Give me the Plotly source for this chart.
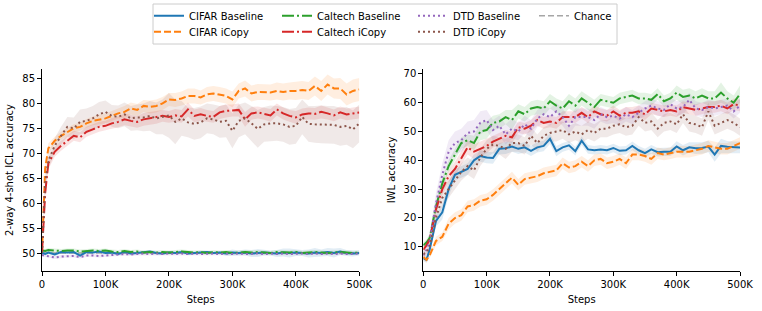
import plotly.graph_objects as go

# ---------------- data ----------------
steps_k = [0, 5, 10, 20, 30, 40, 50, 60, 70, 80,
           90, 100, 110, 120, 130, 140, 150, 160, 170, 180,
           190, 200, 210, 220, 230, 240, 250, 260, 270, 280,
           290, 300, 310, 320, 330, 340, 350, 360, 370, 380,
           390, 400, 410, 420, 430, 440, 450, 460, 470, 480,
           490, 500]
steps = [s * 1000 for s in steps_k]

# ICL accuracy (left panel)
icl_cifar_base = [50.0, 49.8, 50.1, 49.7, 50.2, 50.1, 50.2, 49.5, 50.2, 50.1,
                  50.3, 50.0, 50.1, 49.8, 50.2, 49.9, 50.0, 50.1, 50.3, 50.0,
                  49.9, 50.1, 50.0, 50.2, 49.9, 50.0, 50.1, 50.2, 50.0, 50.1,
                  49.9, 50.1, 50.0, 50.1, 49.9, 50.0, 50.1, 50.0, 49.9, 50.1,
                  50.0, 50.1, 50.0, 49.9, 50.1, 50.0, 50.2, 50.0, 50.3, 50.0,
                  49.9, 50.0]
icl_cifar_icopy = [50.0, 67.0, 71.0, 72.5, 73.5, 74.3, 75.0, 75.3, 76.0, 76.5,
                   76.8, 77.0, 77.5, 78.0, 78.3, 79.0, 78.7, 79.5, 79.3, 79.5,
                   80.0, 80.8, 80.7, 81.0, 81.5, 81.5, 81.2, 81.8, 82.0, 81.8,
                   81.5, 80.8, 82.5, 83.0, 82.0, 82.3, 82.3, 82.2, 82.5, 82.3,
                   82.5, 82.5, 82.7, 82.5, 83.5, 82.5, 83.8, 83.0, 83.0, 81.8,
                   82.5, 82.8]
icl_caltech_base = [50.5, 50.4, 50.6, 50.5, 50.4, 50.5, 50.5, 50.3, 50.4, 50.5,
                    50.4, 50.5, 50.3, 50.2, 50.4, 50.2, 50.3, 50.1, 50.2, 50.1,
                    50.2, 50.1, 50.2, 50.3, 50.2, 50.1, 50.2, 50.0, 50.2, 50.1,
                    50.2, 50.0, 50.1, 50.2, 50.1, 50.2, 50.1, 50.0, 50.2, 50.1,
                    50.1, 50.2, 50.0, 50.1, 50.2, 50.1, 50.0, 50.1, 50.2, 50.1,
                    50.0, 50.1]
icl_caltech_icopy = [50.0, 62.0, 68.0, 70.3, 71.5, 72.5, 73.5, 73.2, 74.3, 74.8,
                     75.3, 75.5, 76.0, 76.3, 76.8, 76.5, 76.3, 76.8, 77.0, 77.2,
                     77.5, 77.3, 77.6, 77.4, 78.8, 77.5, 77.8, 77.5, 77.3, 78.2,
                     78.5, 78.6, 78.7, 76.8, 78.0, 78.2, 77.9, 77.6, 78.8, 78.0,
                     77.5, 77.2, 77.8, 78.0, 77.9, 78.3, 78.0, 77.6, 78.2, 77.8,
                     78.0, 78.2]
icl_dtd_base = [49.6, 49.5, 49.4, 49.1, 49.3, 49.4, 49.4, 49.2, 49.5, 49.5,
                49.4, 49.5, 49.6, 49.7, 49.8, 49.7, 49.8, 49.9, 49.8, 49.9,
                49.8, 49.9, 49.8, 49.9, 49.8, 49.9, 49.8, 49.9, 49.9, 49.8,
                49.9, 49.8, 49.9, 49.8, 49.9, 49.9, 49.8, 49.9, 49.8, 49.9,
                49.8, 49.9, 49.9, 49.8, 49.9, 49.8, 49.9, 49.8, 49.9, 49.8,
                49.9, 49.9]
icl_dtd_icopy = [50.0, 64.0, 68.5, 71.5, 73.5, 75.3, 75.0, 76.3, 76.5, 77.0,
                 77.8, 78.3, 77.5, 77.3, 77.8, 77.0, 77.2, 77.2, 77.5, 77.0,
                 77.3, 77.6, 76.3, 77.0, 76.2, 75.9, 76.2, 77.0, 76.8, 76.3,
                 76.5, 74.5, 76.5, 77.0, 76.0, 74.9, 75.8, 76.0, 76.0, 75.8,
                 75.3, 75.5, 77.3, 75.9, 75.8, 75.8, 75.7, 75.7, 75.3, 75.5,
                 74.8, 76.0]

icl_cifar_base_err = [0.3] * 30 + [0.5, 0.6, 0.5, 0.6, 0.7, 0.8, 0.6, 0.5, 0.7, 0.8,
                                   0.9, 0.7, 0.6, 0.8, 0.9, 0.7, 0.8, 0.9, 0.7, 0.6,
                                   0.6, 0.5]
icl_cifar_icopy_err = [0.0, 1.0, 1.0, 0.8, 0.8, 0.8, 0.8, 0.8, 0.9, 0.9,
                       1.0, 1.0, 1.0, 1.0, 1.2, 1.2, 1.2, 1.2, 1.3, 1.3,
                       1.3, 1.3, 1.4, 1.4, 1.5, 1.5, 1.4, 1.5, 1.5, 1.5,
                       1.5, 1.6, 1.5, 1.6, 1.6, 1.6, 1.6, 1.6, 1.7, 1.7,
                       1.7, 1.8, 1.8, 1.8, 1.9, 2.0, 2.0, 2.0, 2.1, 2.2,
                       2.3, 2.3]
icl_caltech_base_err = [0.4] * 52
icl_caltech_icopy_err = [0.0, 1.2, 1.2, 1.0, 1.0, 1.0, 1.0, 1.0, 1.0, 1.0,
                         1.0, 1.0, 1.1, 1.1, 1.2, 1.2, 1.2, 1.3, 1.3, 1.3,
                         1.2, 1.2, 1.3, 1.3, 1.4, 1.3, 1.3, 1.2, 1.2, 1.3,
                         1.3, 1.2, 1.3, 1.5, 1.3, 1.2, 1.2, 1.3, 1.2, 1.2,
                         1.2, 1.3, 1.2, 1.2, 1.2, 1.3, 1.2, 1.2, 1.2, 1.2,
                         1.2, 1.2]
icl_dtd_base_err = [0.3] * 52
icl_dtd_icopy_err = [0.0, 1.5, 1.5, 1.5, 1.8, 2.0, 2.2, 2.5, 2.5, 2.5,
                     2.5, 2.3, 2.2, 2.3, 2.4, 2.5, 2.6, 2.8, 3.0, 3.2,
                     3.5, 4.5, 4.5, 3.5, 3.0, 3.2, 3.2, 3.0, 3.0, 3.2,
                     3.3, 3.5, 3.3, 3.2, 3.5, 3.8, 3.5, 3.6, 3.5, 3.5,
                     3.6, 3.6, 3.5, 3.6, 3.7, 3.8, 3.8, 3.8, 3.8, 3.8,
                     3.8, 3.8]

# IWL accuracy (right panel)
iwl_cifar_base = [6.0, 5.5, 9.0, 19.0, 22.0, 30.0, 35.0, 36.0, 37.0, 40.0,
                  41.5, 41.0, 40.8, 44.0, 44.2, 44.8, 44.0, 44.5, 43.3, 44.5,
                  45.0, 47.5, 43.2, 44.5, 45.2, 43.2, 46.8, 43.8, 43.5, 43.8,
                  43.5, 44.3, 43.3, 43.5, 45.0, 43.5, 42.5, 43.8, 42.8, 43.0,
                  43.0, 44.8, 43.5, 44.5, 44.2, 44.3, 44.8, 42.0, 45.0, 44.7,
                  44.5, 44.5]
iwl_cifar_icopy = [6.5, 5.5, 7.0, 12.0, 13.5, 18.0, 20.0, 21.0, 24.0, 24.5,
                   26.0, 26.5, 28.0, 30.0, 32.0, 34.0, 31.5, 33.5, 34.0, 34.5,
                   35.5, 36.0, 36.5, 39.0, 37.5, 38.0, 39.5, 38.0, 40.0, 40.5,
                   39.0, 39.5, 40.5, 39.0, 42.0, 42.0, 41.5, 40.5, 42.5, 42.0,
                   42.5, 43.0, 43.0, 43.0, 43.5, 44.0, 45.0, 44.5, 44.0, 44.0,
                   45.0, 46.0]
iwl_caltech_base = [10.5, 11.5, 13.0, 24.0, 32.0, 38.0, 42.0, 46.0, 47.0, 46.0,
                    50.0, 50.5, 53.0, 53.5, 55.0, 54.0, 57.0, 56.0, 58.0, 58.5,
                    58.0, 60.5, 59.0, 58.0, 60.5, 59.0, 61.5, 60.0, 58.5, 61.0,
                    60.5, 60.0, 61.5, 62.0, 62.5, 61.5, 61.5, 61.0, 63.0, 60.5,
                    61.5, 63.5, 62.0, 62.5, 61.5, 62.5, 61.5, 61.5, 63.5, 61.5,
                    60.0, 63.0]
iwl_caltech_icopy = [9.0, 10.5, 12.5, 23.0, 30.0, 34.5, 37.0, 41.0, 44.5, 43.0,
                     44.0, 45.0, 46.5, 47.5, 48.5, 48.0, 51.5, 51.0, 52.0, 54.0,
                     53.0, 53.5, 53.0, 55.0, 55.0, 55.0, 56.5, 55.0, 57.0, 56.0,
                     55.5, 57.0, 55.5, 56.5, 56.5, 57.0, 56.0, 58.0, 57.5, 57.0,
                     57.5, 57.0, 58.5, 58.0, 57.5, 58.0, 58.5, 58.5, 59.0, 58.0,
                     59.5, 59.0]
iwl_dtd_base = [7.0, 9.0, 12.0, 25.0, 35.0, 43.0, 46.0, 47.0, 49.5, 50.0,
                53.0, 54.0, 50.5, 52.0, 49.0, 51.0, 50.0, 52.5, 51.0, 54.5,
                56.0, 55.0, 57.0, 55.0, 52.0, 55.0, 55.0, 55.0, 54.0, 56.0,
                55.0, 55.5, 54.5, 56.0, 55.0, 56.5, 58.0, 59.0, 58.0, 57.5,
                59.5, 58.0, 58.5, 61.0, 58.0, 57.5, 58.5, 58.0, 58.5, 59.0,
                57.0, 59.0]
iwl_dtd_icopy = [7.5, 8.0, 10.0, 20.0, 27.0, 30.0, 33.0, 36.0, 38.0, 36.5,
                 41.0, 44.0, 45.5, 45.0, 44.0, 46.0, 46.0, 45.0, 48.5, 46.0,
                 48.5, 49.5, 50.0, 50.5, 49.0, 50.0, 49.0, 50.5, 49.5, 51.0,
                 51.0, 52.0, 52.5, 51.5, 52.0, 55.0, 53.0, 53.5, 51.0, 53.0,
                 53.5, 52.5, 56.0, 53.0, 52.5, 51.5, 57.0, 52.0, 53.0, 54.0,
                 53.0, 51.5]

iwl_cifar_base_err = [1.0, 1.0, 1.5, 2.0, 2.5, 2.5, 2.0, 2.0, 2.0, 2.0,
                      2.0, 2.0, 2.0, 2.0, 2.0, 1.8, 1.8, 1.8, 1.8, 1.8,
                      1.8, 1.8, 1.8, 1.5, 1.5, 1.5, 1.5, 1.5, 1.5, 1.5,
                      1.5, 1.5, 1.5, 1.5, 1.5, 1.5, 1.5, 1.5, 1.5, 1.5,
                      1.5, 1.8, 1.8, 1.8, 2.0, 2.0, 2.0, 2.5, 2.5, 2.0,
                      2.0, 2.0]
iwl_cifar_icopy_err = [1.0, 1.0, 1.0, 1.5, 1.5, 2.0, 2.0, 2.0, 2.0, 2.0,
                       2.0, 2.0, 2.0, 2.0, 2.0, 2.0, 2.0, 2.0, 2.0, 2.0,
                       2.0, 2.0, 2.0, 2.0, 2.0, 2.0, 2.0, 2.0, 2.0, 2.0,
                       2.0, 2.0, 2.0, 2.0, 2.0, 2.0, 2.0, 2.0, 2.0, 2.0,
                       2.0, 2.0, 2.0, 2.0, 2.0, 2.0, 2.0, 2.0, 2.0, 2.0,
                       2.0, 2.0]
iwl_caltech_base_err = [1.0, 1.0, 1.5, 2.0, 2.0, 2.0, 2.0, 2.0, 2.0, 2.5,
                        3.0, 3.0, 2.5, 2.5, 2.5, 3.5, 2.5, 2.5, 2.5, 2.5,
                        2.5, 2.5, 2.5, 2.5, 2.5, 2.5, 2.5, 2.5, 2.5, 2.0,
                        2.0, 2.0, 2.0, 2.0, 2.0, 2.0, 2.0, 2.0, 2.0, 2.0,
                        2.0, 2.5, 2.5, 2.5, 2.5, 2.5, 2.5, 2.5, 3.5, 2.5,
                        2.5, 3.0]
iwl_caltech_icopy_err = [1.0, 1.0, 1.5, 2.0, 2.0, 2.0, 2.5, 2.5, 2.5, 2.5,
                         2.5, 2.5, 2.0, 2.0, 2.0, 2.0, 2.0, 2.0, 2.0, 2.0,
                         2.0, 2.0, 2.0, 2.0, 2.0, 2.0, 2.0, 2.0, 2.0, 2.0,
                         2.0, 2.0, 2.0, 2.0, 2.0, 2.0, 2.0, 2.0, 2.0, 2.0,
                         2.0, 2.0, 2.0, 2.0, 2.0, 2.0, 2.0, 2.0, 2.0, 2.0,
                         2.0, 2.0]
iwl_dtd_base_err = [1.5, 2.0, 3.0, 3.5, 4.0, 4.0, 4.0, 4.0, 4.0, 4.0,
                    4.0, 3.5, 3.5, 3.5, 3.5, 3.5, 3.0, 3.0, 3.0, 3.0,
                    3.0, 3.0, 3.0, 3.0, 3.0, 3.0, 3.0, 3.0, 3.0, 2.5,
                    2.5, 2.5, 2.5, 2.5, 2.5, 2.5, 2.5, 2.5, 2.5, 2.5,
                    2.5, 2.5, 2.5, 2.5, 2.5, 2.5, 2.5, 2.5, 2.5, 2.5,
                    2.5, 2.5]
iwl_dtd_icopy_err = [1.0, 1.0, 1.5, 2.5, 3.0, 3.0, 3.0, 3.0, 3.0, 3.0,
                     3.0, 3.0, 3.0, 3.0, 3.5, 3.0, 3.0, 3.0, 3.0, 3.0,
                     3.0, 3.0, 3.5, 3.0, 3.0, 3.0, 3.0, 3.0, 3.0, 3.0,
                     3.0, 3.0, 3.0, 3.0, 3.0, 3.0, 3.0, 3.0, 3.0, 3.0,
                     3.0, 3.0, 3.0, 3.0, 3.0, 3.0, 3.0, 3.0, 3.0, 3.0,
                     3.0, 3.0]

chance_icl = 50.0

x_tickvals_k = [0, 100, 200, 300, 400, 500]
x_ticktext = ["0", "100K", "200K", "300K", "400K", "500K"]
left_yticks = [50, 55, 60, 65, 70, 75, 80, 85]
right_yticks = [10, 20, 30, 40, 50, 60, 70]

# ---------------- styling ----------------
FONT = "DejaVu Sans"
COLORS = {
    "CIFAR Baseline": "#1f77b4",
    "CIFAR iCopy": "#ff7f0e",
    "Caltech Baseline": "#2ca02c",
    "Caltech iCopy": "#d62728",
    "DTD Baseline": "#9467bd",
    "DTD iCopy": "#8c564b",
}
DASH = {
    "CIFAR Baseline": "solid",
    "CIFAR iCopy": "7px,3px",
    "Caltech Baseline": "12px,3px,2px,3px",
    "Caltech iCopy": "12px,3px,2px,3px",
    "DTD Baseline": "2px,3px",
    "DTD iCopy": "2px,3px",
}
# one single-entry legend per slot, laid out like a 4-column, 2-row legend
LEGEND_OF = {
    "CIFAR Baseline": "legend", "CIFAR iCopy": "legend2",
    "Caltech Baseline": "legend3", "Caltech iCopy": "legend4",
    "DTD Baseline": "legend5", "DTD iCopy": "legend6",
}

W, H = 762, 311
ML, MR, MT, MB = 42, 22, 69, 40
PW, PH = W - ML - MR, H - MT - MB


def px_x(p):
    return (p - ML) / PW


def px_y(p):
    return (H - MB - p) / PH


def rgba(hexc, a):
    h = hexc.lstrip("#")
    r, g, b = int(h[0:2], 16), int(h[2:4], 16), int(h[4:6], 16)
    return f"rgba({r},{g},{b},{a})"


series_left = [
    ("CIFAR Baseline", icl_cifar_base, icl_cifar_base_err),
    ("CIFAR iCopy", icl_cifar_icopy, icl_cifar_icopy_err),
    ("Caltech Baseline", icl_caltech_base, icl_caltech_base_err),
    ("Caltech iCopy", icl_caltech_icopy, icl_caltech_icopy_err),
    ("DTD Baseline", icl_dtd_base, icl_dtd_base_err),
    ("DTD iCopy", icl_dtd_icopy, icl_dtd_icopy_err),
]
series_right = [
    ("CIFAR Baseline", iwl_cifar_base, iwl_cifar_base_err),
    ("CIFAR iCopy", iwl_cifar_icopy, iwl_cifar_icopy_err),
    ("Caltech Baseline", iwl_caltech_base, iwl_caltech_base_err),
    ("Caltech iCopy", iwl_caltech_icopy, iwl_caltech_icopy_err),
    ("DTD Baseline", iwl_dtd_base, iwl_dtd_base_err),
    ("DTD iCopy", iwl_dtd_icopy, iwl_dtd_icopy_err),
]

fig = go.Figure()

# chance line (left panel)
fig.add_trace(go.Scatter(
    x=[steps[0], steps[-1]], y=[chance_icl, chance_icl], mode="lines",
    line=dict(color="#a6a6a6", width=1.6, dash="6px,3px"),
    name="Chance", legend="legend7", xaxis="x", yaxis="y", hoverinfo="skip"))

for series, xa, ya, show in [(series_left, "x", "y", True), (series_right, "x2", "y2", False)]:
    for name, vals, err in series:
        up = [v + e for v, e in zip(vals, err)]
        lo = [v - e for v, e in zip(vals, err)]
        fig.add_trace(go.Scatter(
            x=steps + steps[::-1], y=up + lo[::-1], fill="toself",
            fillcolor=rgba(COLORS[name], 0.13), line=dict(width=0),
            mode="lines", showlegend=False, hoverinfo="skip",
            xaxis=xa, yaxis=ya))
    for name, vals, err in series:
        fig.add_trace(go.Scatter(
            x=steps, y=vals, mode="lines", name=name,
            line=dict(color=COLORS[name], width=2, dash=DASH[name]),
            showlegend=show, legend=LEGEND_OF[name],
            xaxis=xa, yaxis=ya))

axis_common = dict(
    showline=True, linecolor="black", linewidth=1, ticks="outside",
    ticklen=4, tickwidth=1, tickcolor="black", showgrid=False, zeroline=False,
    tickfont=dict(family=FONT, size=10, color="black"), mirror=False,
    automargin=False,
)
x_tickvals = [v * 1000 for v in x_tickvals_k]

legend_common = dict(
    orientation="v", xanchor="left", yanchor="middle",
    bgcolor="rgba(0,0,0,0)", borderwidth=0,
    font=dict(family=FONT, size=10, color="black"),
    itemwidth=30,
)
col_px = [149, 277, 413, 534]   # left edge of each legend column (px)
row_px = [15.7, 31.7]           # centre of each legend row (px)

fig.update_layout(
    width=W, height=H,
    margin=dict(l=ML, r=MR, t=MT, b=MB, autoexpand=False),
    paper_bgcolor="white", plot_bgcolor="white",
    font=dict(family=FONT, size=10, color="black"),
    xaxis=dict(domain=[0, px_x(359.3)], range=[0, 500000], tickvals=x_tickvals,
               ticktext=x_ticktext, anchor="y",
               title=dict(text="Steps", standoff=6, font=dict(size=10)), **axis_common),
    yaxis=dict(domain=[0, 1], range=[46.4, 86.9], tickvals=left_yticks, anchor="x",
               title=dict(text="2-way 4-shot ICL accuracy", standoff=6, font=dict(size=10)),
               **axis_common),
    xaxis2=dict(domain=[px_x(423.3), 1.0], range=[0, 500000], tickvals=x_tickvals,
                ticktext=x_ticktext, anchor="y2",
                title=dict(text="Steps", standoff=6, font=dict(size=10)), **axis_common),
    yaxis2=dict(domain=[0, 1], range=[1.6, 71.7], tickvals=right_yticks, anchor="x2",
                title=dict(text="IWL accuracy", standoff=6, font=dict(size=10)),
                **axis_common),
    legend=dict(x=px_x(col_px[0]), y=px_y(row_px[0]), **legend_common),
    legend2=dict(x=px_x(col_px[0]), y=px_y(row_px[1]), **legend_common),
    legend3=dict(x=px_x(col_px[1]), y=px_y(row_px[0]), **legend_common),
    legend4=dict(x=px_x(col_px[1]), y=px_y(row_px[1]), **legend_common),
    legend5=dict(x=px_x(col_px[2]), y=px_y(row_px[0]), **legend_common),
    legend6=dict(x=px_x(col_px[2]), y=px_y(row_px[1]), **legend_common),
    legend7=dict(x=px_x(col_px[3]), y=px_y(row_px[0]), **legend_common),
    shapes=[dict(type="rect", xref="paper", yref="paper",
                 x0=px_x(153), x1=px_x(617), y0=px_y(44), y1=px_y(4),
                 line=dict(color="#cccccc", width=1), fillcolor="rgba(0,0,0,0)")],
    showlegend=True,
)

fig.write_html("out.html", config={"displayModeBar": False},
               post_script="document.body.style.margin='0';")
